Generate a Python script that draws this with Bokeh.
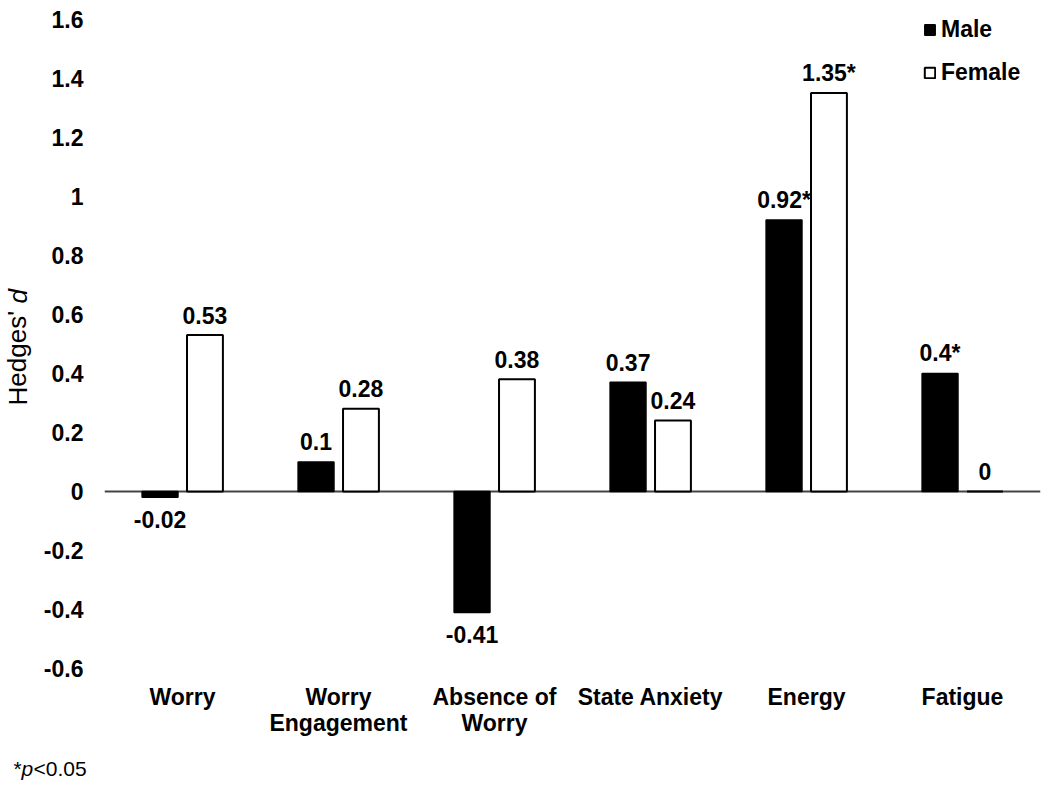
from bokeh.plotting import figure
from bokeh.layouts import row, column
from bokeh.models import (ColumnDataSource, Range1d, Span, Legend, LegendItem,
                          FixedTicker, NumeralTickFormatter, LinearAxis)
from bokeh.transform import dodge
from bokeh.core.properties import value
from bokeh.embed import file_html
from bokeh.resources import INLINE

# ---- data ----
categories = ["Worry", "Worry Engagement", "Absence of Worry", "State Anxiety", "Energy", "Fatigue"]
label_line1 = ["Worry", "Worry", "Absence of", "State Anxiety", "Energy", "Fatigue"]
label_line2 = ["", "Engagement", "Worry", "", "", ""]
male = [-0.02, 0.10, -0.41, 0.37, 0.92, 0.40]
female = [0.53, 0.28, 0.38, 0.24, 1.35, 0.00]
male_sig = [False, False, False, False, True, True]
female_sig = [False, False, False, False, True, False]
y_ticks = [-0.6, -0.4, -0.2, 0, 0.2, 0.4, 0.6, 0.8, 1.0, 1.2, 1.4, 1.6]

FONT = "Liberation Sans"
FS = "23px"


def fmt(v, s):
    return f"{v:g}" + ("*" if s else "")


def offs(vals):
    return [-20 if v >= 0 else 22 for v in vals]


pos = [i + 0.5 for i in range(len(categories))]

src = ColumnDataSource(dict(
    xi=pos,
    male=male,
    female=female,
    male_lbl=[fmt(v, s) for v, s in zip(male, male_sig)],
    female_lbl=[fmt(v, s) for v, s in zip(female, female_sig)],
    male_off=offs(male),
    female_off=offs(female),
))

TOP_PAD = 4
p = figure(width=1002, height=745, x_range=Range1d(0, len(categories)), y_range=Range1d(-0.6, 1.65),
           output_backend="svg", toolbar_location=None, x_axis_location=None,
           min_border_left=63, min_border_right=2, min_border_top=TOP_PAD, min_border_bottom=77)
p.outline_line_color = None
p.xgrid.grid_line_color = None
p.ygrid.grid_line_color = None
p.background_fill_color = "white"

# zero line
p.add_layout(Span(location=0, dimension="width", line_color="#444444", line_width=2, level="underlay"))

OFF = 0.144
W = 0.23
male_r = p.vbar(x=dodge("xi", -OFF), top="male", bottom=0, width=W, source=src,
                fill_color="black", line_color="black", line_width=1.5)
female_r = p.vbar(x=dodge("xi", OFF), top="female", bottom=0, width=W, source=src,
                  fill_color="white", line_color="black", line_width=2)

for col, lbl, off, d in (("male", "male_lbl", "male_off", -OFF), ("female", "female_lbl", "female_off", OFF)):
    p.text(x=dodge("xi", d), y=col, text=lbl, y_offset=off, source=src,
           text_align="center", text_baseline="middle", text_font=value(FONT), text_font_style="bold",
           text_font_size=FS, text_color="black")


def style_xaxis(ax, standoff, labels):
    ax.ticker = FixedTicker(ticks=pos)
    ax.axis_line_color = None
    ax.major_tick_line_color = None
    ax.minor_tick_line_color = None
    ax.major_label_standoff = standoff
    ax.major_label_text_font = FONT
    ax.major_label_text_font_style = "bold"
    ax.major_label_text_font_size = FS
    ax.major_label_text_color = "black"
    ax.major_label_overrides = {x: l for x, l in zip(pos, labels)}


xa1 = LinearAxis()
style_xaxis(xa1, 9, label_line1)
xa2 = LinearAxis()
style_xaxis(xa2, -9, label_line2)
p.add_layout(xa1, "below")
p.add_layout(xa2, "below")

ya = p.yaxis[0]
ya.ticker = FixedTicker(ticks=y_ticks)
ya.formatter = NumeralTickFormatter(format="0.[0]")
ya.axis_line_color = None
ya.major_tick_line_color = None
ya.minor_tick_line_color = None
ya.major_label_standoff = 15
ya.major_label_text_font = FONT
ya.major_label_text_font_style = "bold"
ya.major_label_text_font_size = FS
ya.major_label_text_color = "black"

legend = Legend(items=[LegendItem(label="Male", renderers=[male_r]),
                       LegendItem(label="Female", renderers=[female_r])],
                location=(819, 582))
legend.padding = 0
legend.margin = 0
legend.spacing = 16
legend.glyph_width = 13
legend.glyph_height = 13
legend.label_height = 27
legend.label_standoff = 5
legend.border_line_color = None
legend.background_fill_alpha = 0
legend.label_text_font = FONT
legend.label_text_font_style = "bold"
legend.label_text_font_size = FS
legend.label_text_color = "black"
p.add_layout(legend)

# ---- y axis title panel: Hedges' d (d italic) ----
yt = figure(width=40, height=745, x_range=Range1d(0, 40), y_range=p.y_range,
            output_backend="svg", toolbar_location=None, x_axis_location=None, y_axis_location=None,
            min_border_left=0, min_border_right=0, min_border_top=TOP_PAD, min_border_bottom=77)
yt.outline_line_color = None
yt.xgrid.grid_line_color = None
yt.ygrid.grid_line_color = None
yt.text(x=[17], y=[0.2915], text=["Hedges'"], angle=1.5708, text_align="left", text_baseline="middle",
        text_font=value(FONT), text_font_size="26px", text_color="black")
yt.text(x=[17], y=[0.637], text=["d"], angle=1.5708, text_align="left", text_baseline="middle",
        text_font=value(FONT), text_font_size="26px", text_font_style="italic", text_color="black")

# ---- footnote panel: *p<0.05 ----
fn = figure(width=1042, height=35, x_range=Range1d(0, 1042), y_range=Range1d(0, 35),
            output_backend="svg", toolbar_location=None, x_axis_location=None, y_axis_location=None,
            min_border=0)
fn.outline_line_color = None
fn.xgrid.grid_line_color = None
fn.ygrid.grid_line_color = None
fn.text(x=[13], y=[12], text=["*"], text_align="left", text_baseline="middle",
        text_font=value(FONT), text_font_size="21px", text_color="black")
fn.text(x=[21], y=[12], text=["p"], text_align="left", text_baseline="middle",
        text_font=value(FONT), text_font_size="21px", text_font_style="italic", text_color="black")
fn.text(x=[33], y=[12], text=["<0.05"], text_align="left", text_baseline="middle",
        text_font=value(FONT), text_font_size="21px", text_color="black")

layout = column(row(yt, p), fn)
open("out.html", "w").write(file_html(layout, INLINE))
